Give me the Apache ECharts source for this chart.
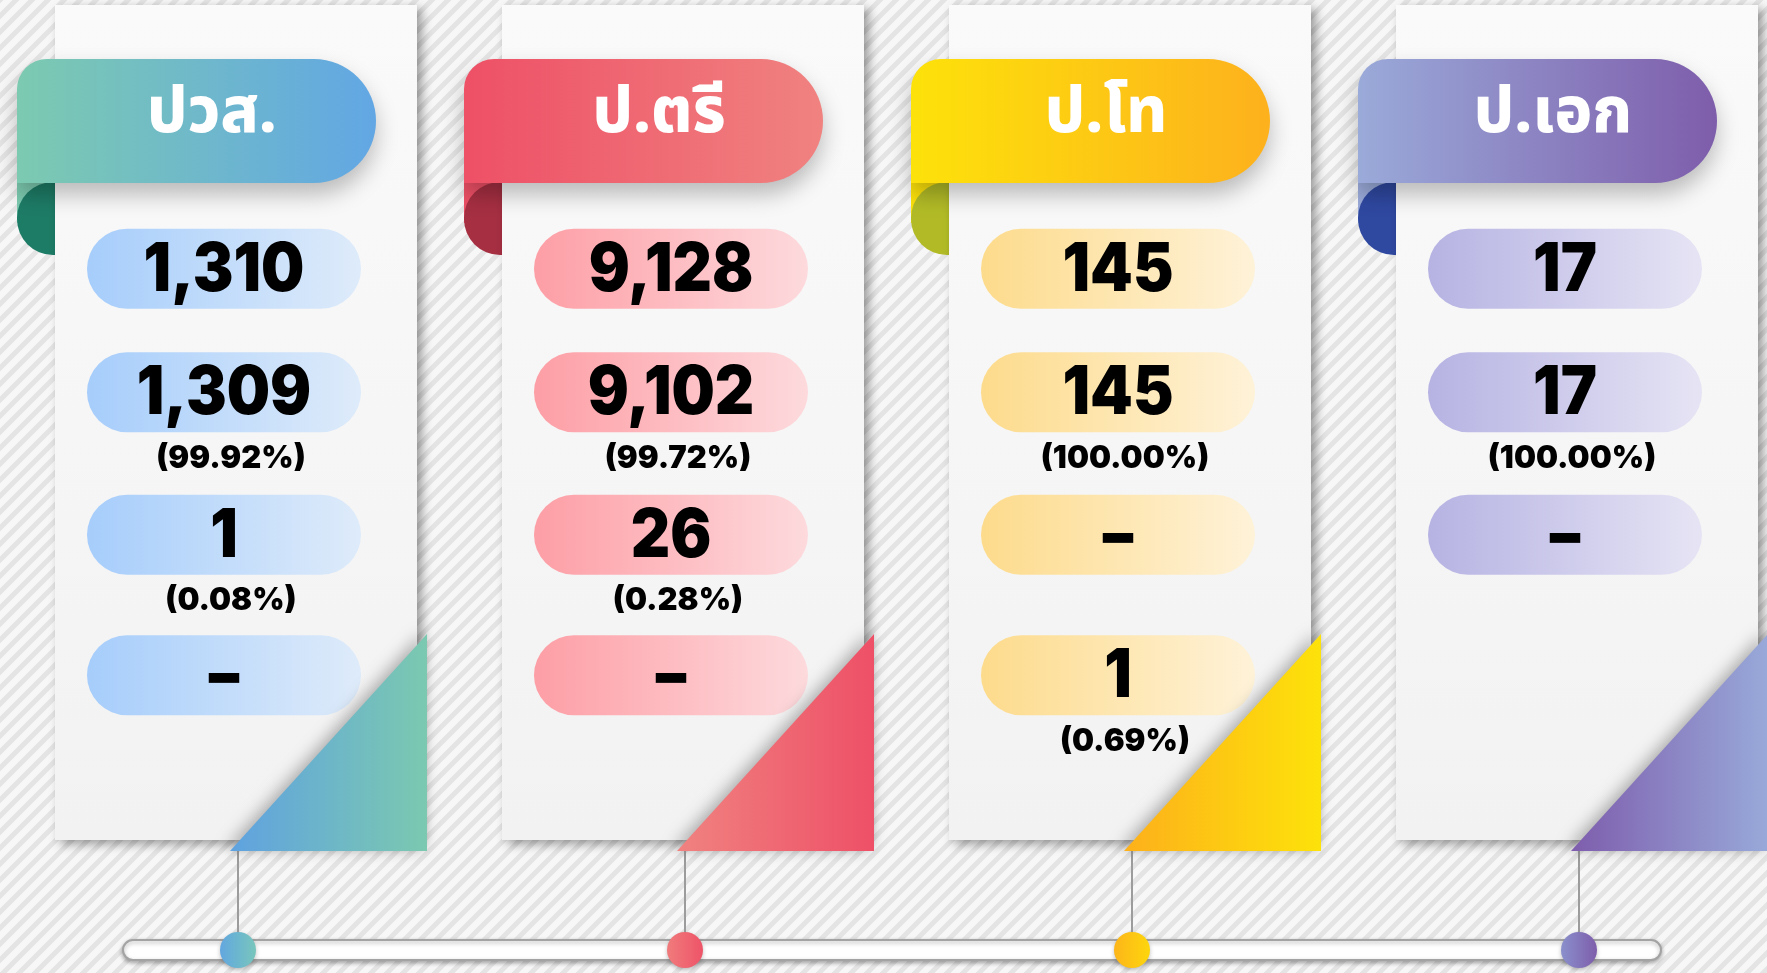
<!DOCTYPE html>
<html>
<head>
<meta charset="utf-8">
<title>ผลการสำเร็จการศึกษา</title>
<script src="https://cdn.jsdelivr.net/npm/echarts@6/dist/echarts.min.js"></script>
<style>
  html, body { margin: 0; padding: 0; overflow: hidden; }
  #main { width: 1767px; height: 973px; }
</style>
</head>
<body>
<div id="main"></div>
<script>
// ---- data ----
var levels = ['ปวส.', 'ป.ตรี', 'ป.โท', 'ป.เอก'];
var totalCounts = [1310, 9128, 145, 17];
var passCounts = [1309, 9102, 145, 17];
var failCounts = [1, 26, null, null];      // null -> shown as "–"
var otherCounts = [null, null, 1];         // ป.เอก has no 4th box
var rowKeys = ['total', 'pass', 'fail', 'other'];

// ---- styles ----
var palettes = [
  { ribbon: ['#7ccab0', '#62a7e4'], fold: '#1d7c66', pill: ['#a6cdfb', '#deebfa'], tri: ['#5fa2e0', '#7bc9b0'], dot: ['#62a7e0', '#78c6bc'] },
  { ribbon: ['#ee5066', '#f08280'], fold: '#a62f42', pill: ['#fd9ea5', '#fddadd'], tri: ['#f08280', '#ee5067'], dot: ['#f07b7c', '#ee5468'] },
  { ribbon: ['#fde20a', '#fdb11d'], fold: '#b2bb26', pill: ['#fddb8c', '#fef2d8'], tri: ['#fdb01b', '#fde20a'], dot: ['#fdb51a', '#fdd60c'] },
  { ribbon: ['#9aaad9', '#7e5dab'], fold: '#2f48a0', pill: ['#b6b3e3', '#e6e4f4'], tri: ['#7e5dad', '#98a9d9'], dot: ['#8a90cc', '#7e5dab'] }
];
var ROW_NUDGE = [0, -12, -5, 0];
var NUM_FONT = '900 67px Inter, Lato, sans-serif';
var PCT_FONT = '900 32px Inter, Lato, sans-serif';
var TITLE_FONT = '800 63px "Noto Sans Thai", "Noto Sans", sans-serif';

function hGrad(c) {
  return new echarts.graphic.LinearGradient(0, 0, 1, 0, [
    { offset: 0, color: c[0] }, { offset: 1, color: c[1] }
  ]);
}
function fmt(n) { return n == null ? '–' : n.toLocaleString('en-US'); }
function pct(n, total) { return '(' + (n / total * 100).toFixed(2) + '%)'; }

// striped background
var tile = document.createElement('canvas');
tile.width = 16; tile.height = 16;
var tc = tile.getContext('2d');
tc.fillStyle = '#f7f7f7';
tc.fillRect(0, 0, 16, 16);
tc.strokeStyle = '#e4e4e4';
tc.lineWidth = 5;
tc.beginPath();
for (var k = -1; k <= 1; k++) {
  tc.moveTo(k * 16 - 2, 18);
  tc.lineTo(k * 16 + 18, -2);
}
tc.stroke();

function renderCard(params, api) {
  var i = api.value(0);
  var cx = api.coord([i, 0])[0];
  var rowY = rowKeys.map(function (key, r) { return api.coord([i, r])[1] + ROW_NUDGE[r]; });
  var pal = palettes[i];
  var ch = [];

  // ribbon curl behind the card
  ch.push({ type: 'rect', shape: { x: cx - 219, y: 183, width: 40, height: 40 }, style: { fill: pal.ribbon[0] } });
  ch.push({ type: 'rect', shape: { x: cx - 219, y: 182, width: 44, height: 73, r: [36, 0, 0, 36] }, style: { fill: pal.fold } });

  // card
  ch.push({
    type: 'rect',
    shape: { x: cx - 181, y: 5, width: 362, height: 835 },
    style: {
      fill: new echarts.graphic.LinearGradient(0, 0, 0, 1, [{ offset: 0, color: '#fafafa' }, { offset: 1, color: '#f2f2f2' }]),
      shadowBlur: 10, shadowOffsetX: 5, shadowOffsetY: 4, shadowColor: 'rgba(0,0,0,0.38)'
    }
  });

  // ribbon
  ch.push({
    type: 'rect',
    shape: { x: cx - 219, y: 59, width: 359, height: 124, r: [30, 62, 62, 0] },
    style: { fill: hGrad(pal.ribbon), shadowBlur: 22, shadowOffsetY: 12, shadowColor: 'rgba(0,0,0,0.25)' }
  });
  ch.push({
    type: 'text',
    style: { text: levels[i], x: cx - 24, y: 119, align: 'center', verticalAlign: 'middle', fill: '#ffffff', font: TITLE_FONT }
  });

  // value boxes
  var vals = [totalCounts[i], passCounts[i], failCounts[i], otherCounts[i]];
  for (var r = 0; r < 4; r++) {
    if (r === 3 && i >= otherCounts.length) continue;
    var y = rowY[r];
    ch.push({ type: 'rect', shape: { x: cx - 149, y: y - 40, width: 274, height: 80, r: 40 }, style: { fill: hGrad(pal.pill) } });
    ch.push({
      type: 'text',
      x: cx - 12, y: y + 2, scaleX: 0.91,
      style: { text: fmt(vals[r]), x: 0, y: 0, align: 'center', verticalAlign: 'middle', fill: '#000', font: NUM_FONT }
    });
    if (r > 0 && vals[r] != null) {
      ch.push({
        type: 'text',
        x: cx - 5, y: y + 66, scaleX: 0.97,
        style: { text: pct(vals[r], totalCounts[i]), x: 0, y: 0, align: 'center', verticalAlign: 'middle', fill: '#000', font: PCT_FONT }
      });
    }
  }

  // connector, folded corner, dot
  ch.push({ type: 'line', shape: { x1: cx + 2, y1: 851, x2: cx + 2, y2: 934 }, style: { stroke: '#9c9c9c', lineWidth: 2 } });
  ch.push({
    type: 'polygon',
    shape: { points: [[cx + 191, 634], [cx + 191, 851], [cx - 6, 851]] },
    style: { fill: hGrad(pal.tri), shadowBlur: 16, shadowOffsetX: -4, shadowOffsetY: -2, shadowColor: 'rgba(0,0,0,0.3)' }
  });
  ch.push({
    type: 'circle',
    shape: { cx: cx + 2, cy: 950, r: 18 },
    style: { fill: hGrad(pal.dot), shadowBlur: 4, shadowOffsetY: 2, shadowColor: 'rgba(0,0,0,0.25)' }
  });

  return { type: 'group', children: ch };
}

function renderTrack(params, api) {
  var x1 = api.coord([0, 0])[0] + 2 - 115;
  var x2 = api.coord([levels.length - 1, 0])[0] + 2 + 82;
  return {
    type: 'rect',
    shape: { x: x1, y: 940, width: x2 - x1, height: 20, r: 10 },
    style: { fill: '#ffffff', stroke: '#a3a3a3', lineWidth: 2, shadowBlur: 4, shadowOffsetY: 2, shadowColor: 'rgba(0,0,0,0.3)' }
  };
}

var chart = echarts.init(document.getElementById('main'));
chart.setOption({
  animation: false,
  backgroundColor: { image: tile, repeat: 'repeat' },
  grid: { left: 236, right: 190, top: 201, height: 542 },
  xAxis: { type: 'category', data: levels, boundaryGap: false, show: false },
  yAxis: { type: 'category', data: rowKeys, inverse: true, show: false },
  series: [
    { type: 'custom', z: 1, silent: true, renderItem: renderTrack, data: [[0, 0]] },
    {
      type: 'custom', z: 2, silent: true, renderItem: renderCard,
      data: levels.map(function (l, i) { return [i, 0]; })
    }
  ]
});
</script>
</body>
</html>
